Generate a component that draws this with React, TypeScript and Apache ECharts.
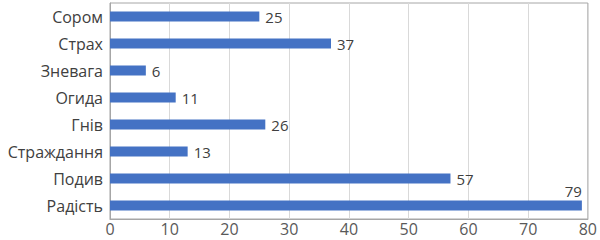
import React, { useEffect, useRef } from "react";
import * as echarts from "echarts";

const categories = ["Сором", "Страх", "Зневага", "Огида", "Гнів", "Страждання", "Подив", "Радість"];
const values = [25, 37, 6, 11, 26, 13, 57, 79];
const xTicks = { min: 0, max: 80, interval: 10 };

export default function App() {
  const ref = useRef<HTMLDivElement>(null);
  useEffect(() => {
    if (!ref.current) return;
    const chart = echarts.init(ref.current, null, { renderer: "svg" });
    const font = "Open Sans, Noto Sans, sans-serif";
    chart.setOption({
      animation: false,
      grid: {
        left: 110,
        right: 11,
        top: 3,
        bottom: 21,
        show: true,
        borderColor: "#a6a6a6",
        borderWidth: 1,
      },
      xAxis: {
        type: "value",
        min: xTicks.min,
        max: xTicks.max,
        interval: xTicks.interval,
        axisLine: { show: true, lineStyle: { color: "#a6a6a6" } },
        axisTick: { show: false },
        splitLine: { show: true, lineStyle: { color: "#d9d9d9", width: 1 } },
        axisLabel: { color: "#595959", fontSize: 16, fontFamily: font, margin: 2 },
      },
      yAxis: {
        type: "category",
        inverse: true,
        data: categories,
        axisLine: { show: true, lineStyle: { color: "#a6a6a6" } },
        axisTick: { show: false },
        axisLabel: { color: "#404040", fontSize: 16, fontFamily: font, margin: 7 },
      },
      series: [
        {
          type: "bar",
          barWidth: 10,
          itemStyle: { color: "#4472c4" },
          data: values.map((v, i) =>
            i === values.length - 1
              ? {
                  value: v,
                  label: {
                    show: true,
                    position: ["100%", -2],
                    align: "right",
                    verticalAlign: "bottom",
                  },
                }
              : v
          ),
          label: {
            show: true,
            position: "right",
            distance: 6,
            color: "#404040",
            fontSize: 15,
            fontFamily: font,
          },
        },
      ],
    });
    return () => chart.dispose();
  }, []);
  return (
    <div
      ref={ref}
      style={{ position: "absolute", left: 0, top: 0, width: 600, height: 240, background: "#fff" }}
    />
  );
}
